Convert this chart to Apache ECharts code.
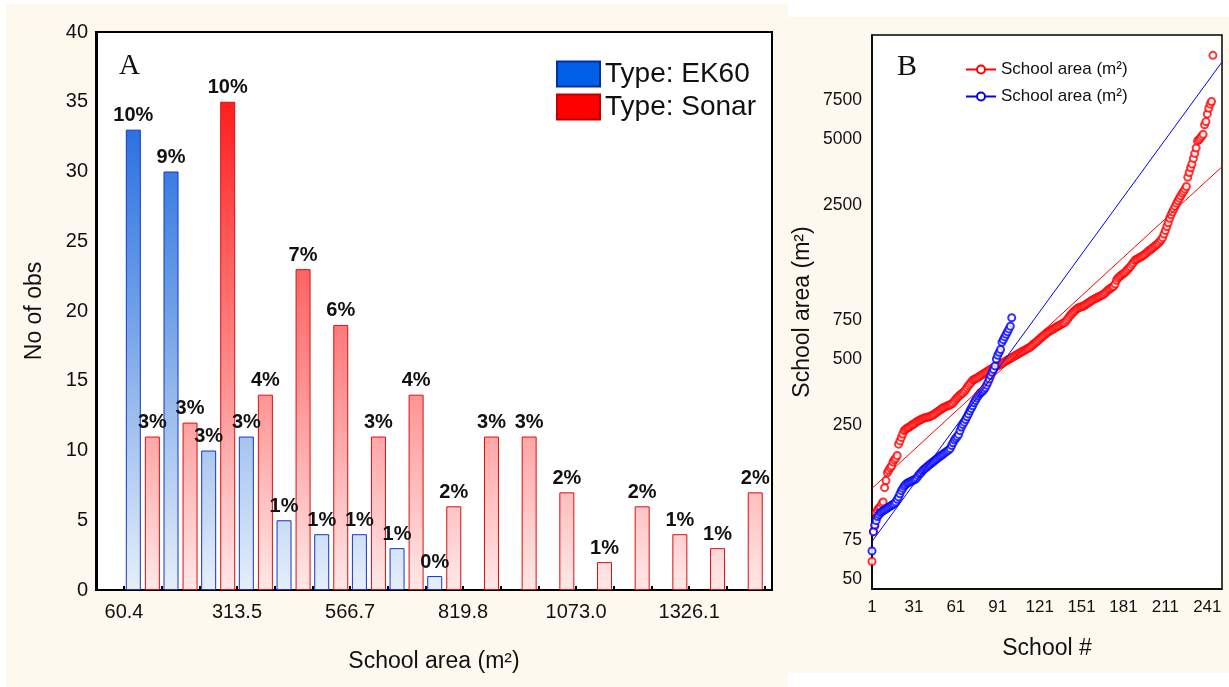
<!DOCTYPE html>
<html>
<head>
<meta charset="utf-8">
<script src="https://cdn.jsdelivr.net/npm/echarts@6/dist/echarts.min.js"></script>
<style>
html,body{margin:0;padding:0;background:#ffffff;}
#chart{width:1229px;height:687px;}
</style>
</head>
<body>
<div id="chart"></div>
<script>
// ---------- Panel A: histogram ----------
const binEdges = [60.4, 144.8, 229.2, 313.5, 397.9, 482.3, 566.7, 651.1, 735.4, 819.8, 904.2, 988.6, 1073.0, 1157.4, 1241.7, 1326.1, 1410.5, 1494.9];
const histTickLabels = ['60.4', '313.5', '566.7', '819.8', '1073.0', '1326.1'];
const countTicks = [0, 5, 10, 15, 20, 25, 30, 35, 40];
const ek60Counts = [33, 30, 10, 11, 5, 4, 4, 3, 1];
const sonarCounts = [11, 12, 35, 14, 23, 19, 11, 14, 6, 11, 11, 7, 2, 6, 4, 3, 7];
const ek60Pct = ['10%', '9%', '3%', '3%', '1%', '1%', '1%', '1%', '0%'];
const sonarPct = ['3%', '3%', '10%', '4%', '7%', '6%', '3%', '4%', '2%', '3%', '3%', '2%', '1%', '2%', '1%', '1%', '2%'];

// ---------- Panel B: ranked school areas ----------
const schoolTicks = [1, 31, 61, 91, 121, 151, 181, 211, 241];
const areaTicks = [50, 75, 250, 500, 750, 2500, 5000, 7500];
const sonarAreas = [
  60, 82, 87, 100, 103, 105, 106, 110, 112, 130, 140,
  152, 156, 160, 163, 170, 174, 177, 182, 205, 212, 220, 228,
  236, 239, 242, 244, 246, 249, 251, 253, 256, 259, 261, 263, 265, 267, 269, 270, 271, 272, 273, 275, 277, 279, 282, 285, 288, 291, 294, 297, 300, 302, 304, 306, 308, 310, 312,
  316, 322, 328, 333, 338, 343, 347, 350, 356, 362, 370, 378, 385, 392,
  400, 403, 406, 409, 413, 417, 421, 425, 429, 433, 437, 441, 445, 449, 452, 456, 459, 463, 467, 470, 474, 477, 481,
  486, 490, 494, 498, 502, 507, 511, 516, 520, 524, 529, 533, 538, 542, 547, 551, 556, 560, 565,
  572, 579, 586, 593, 600, 608, 616, 624, 632, 640, 648,
  656, 662, 668, 674, 680, 686, 692, 698, 704, 710, 716, 722, 728, 733,
  745, 760, 775, 790, 803, 815,
  826, 838, 848, 856, 860, 864, 868, 874, 884, 893, 901,
  910, 920, 928, 935, 942, 949, 956, 963, 970, 978, 985,
  1000, 1015, 1028, 1040, 1050, 1060, 1070,
  1095, 1140,
  1165, 1180, 1195, 1210, 1222, 1235,
  1255, 1275, 1295, 1315,
  1345, 1370, 1400,
  1415, 1425, 1440, 1450, 1462, 1475, 1490,
  1510, 1530, 1550, 1565, 1580, 1600, 1620, 1640, 1660, 1680, 1710, 1740, 1780, 1850, 1920, 2000, 2080, 2180, 2260, 2330,
  2400, 2470, 2550, 2620, 2690, 2760, 2830, 2890, 2960, 3040, 3350, 3520, 3700, 3850, 4080, 4300, 4550, 4900, 4960, 5050,
  5150, 5250, 5800, 6000, 6500, 6900, 7200, 7400, 12000
];
const ek60Areas = [
  67, 82, 88, 92, 96, 98, 100, 101, 102, 103, 104, 105, 106, 107, 108, 109, 110, 112, 115, 118, 122, 126, 129, 132, 134, 136, 137, 138, 139, 140, 141, 142, 144,
  147, 150, 152, 155, 157, 159, 161, 163, 165, 167, 169, 171, 173, 175, 177, 179, 181, 183, 185, 187, 189, 191, 193, 196, 202, 208, 214, 218, 222, 227,
  236, 245, 252, 258, 265, 273, 281, 290, 298, 306,
  316, 324, 332, 340, 347, 352, 356, 362, 370, 380, 392,
  405, 420, 435, 448, 465,
  500, 520, 536, 552,
  595, 612, 630, 648,
  665, 685, 705,
  770
];
const sonarFit = [[1, 129], [251.5, 3740]];
const ek60Fit = [[1, 74], [251.5, 11200]];

// ---------- build ----------
const FONT = '"Liberation Sans", Arial, sans-serif';
const SERIF = '"Liberation Serif", "Times New Roman", serif';
const binCenter = i => (binEdges[i] + binEdges[i + 1]) / 2;

const gA = {left: 96, top: 32, width: 676, height: 558};
const gB = {left: 872, top: 35, width: 350, height: 554};

const blueGrad = new echarts.graphic.LinearGradient(0, gA.top, 0, gA.top + gA.height, [
  {offset: 0, color: '#0A58D8'},
  {offset: 0.175, color: '#2B72E0'},
  {offset: 0.5, color: '#6FA0E8'},
  {offset: 0.725, color: '#A5C4EE'},
  {offset: 1, color: '#E6EFFB'}
], true);
const redGrad = new echarts.graphic.LinearGradient(0, gA.top, 0, gA.top + gA.height, [
  {offset: 0, color: '#FF0000'},
  {offset: 0.125, color: '#FF1E1E'},
  {offset: 0.425, color: '#FF6363'},
  {offset: 0.65, color: '#FF9494'},
  {offset: 1, color: '#FFE8E8'}
], true);

const pctLabel = {show: true, position: 'top', distance: 4, color: '#111', fontFamily: FONT, fontSize: 20, fontWeight: 'bold'};

const option = {
  animation: false,
  backgroundColor: 'transparent',
  textStyle: {fontFamily: FONT},
  graphic: [
    {type: 'rect', z: -100, shape: {x: 6, y: 4, width: 782, height: 683}, style: {fill: '#FDF9EE'}},
    {type: 'rect', z: -100, shape: {x: 788, y: 17, width: 441, height: 656}, style: {fill: '#FDF9EE'}},
    {type: 'text', z: 100, left: 119, top: 52, style: {text: 'A', font: '29px ' + SERIF, fill: '#111'}},
    {type: 'text', z: 100, left: 897, top: 52, style: {text: 'B', font: '30px ' + SERIF, fill: '#111'}}
  ],
  legend: [
    {
      left: 551, top: 55, orient: 'vertical', itemWidth: 43, itemHeight: 25, itemGap: 5,
      textStyle: {fontFamily: FONT, fontSize: 28, color: '#111'},
      data: [
        {name: 'Type: EK60', icon: 'rect', itemStyle: {color: '#005FE6', borderColor: '#0030A0', borderWidth: 2}},
        {name: 'Type: Sonar', icon: 'rect', itemStyle: {color: '#FF0000', borderColor: '#C00000', borderWidth: 2}}
      ]
    },
    {
      left: 960, top: 56, orient: 'vertical', itemWidth: 30, itemHeight: 10, itemGap: 10,
      textStyle: {fontFamily: FONT, fontSize: 17, color: '#111'},
      formatter: () => 'School area (m²)',
      data: ['Sonar fit', 'EK60 fit']
    }
  ],
  grid: [
    Object.assign({show: true, backgroundColor: '#fff', borderColor: '#000', borderWidth: 2, containLabel: false}, gA),
    Object.assign({show: true, backgroundColor: '#fff', borderColor: '#000', borderWidth: 1.5, containLabel: false}, gB)
  ],
  xAxis: [
    {
      gridIndex: 0, type: 'value', min: -2.3, max: 1511.6,
      name: 'School area (m²)', nameLocation: 'middle', nameGap: 60,
      nameTextStyle: {fontFamily: FONT, fontSize: 23, color: '#111'},
      axisLine: {show: true, lineStyle: {color: '#000', width: 2}},
      axisTick: {show: true, inside: true, length: 4, lineStyle: {color: '#000', width: 2}, customValues: binEdges},
      axisLabel: {show: true, margin: 12, fontFamily: FONT, fontSize: 20, color: '#111',
        customValues: histTickLabels.map(Number),
        formatter: v => histTickLabels.find(s => Math.abs(Number(s) - v) < 1e-6) || ''},
      splitLine: {show: false}
    },
    {
      gridIndex: 1, type: 'value', min: 1, max: 251.5,
      name: 'School #', nameLocation: 'middle', nameGap: 48,
      nameTextStyle: {fontFamily: FONT, fontSize: 23, color: '#111'},
      axisLine: {show: true, lineStyle: {color: '#000', width: 1.5}},
      axisTick: {show: false},
      axisLabel: {show: true, margin: 10, fontFamily: FONT, fontSize: 17, color: '#111', customValues: schoolTicks,
        formatter: v => String(Math.round(v))},
      splitLine: {show: false}
    }
  ],
  yAxis: [
    {
      gridIndex: 0, type: 'value', min: 0, max: 40, interval: 5,
      name: 'No of obs', nameLocation: 'middle', nameGap: 50,
      nameTextStyle: {fontFamily: FONT, fontSize: 23, color: '#111'},
      axisLine: {show: true, lineStyle: {color: '#000', width: 2}},
      axisTick: {show: false},
      axisLabel: {show: true, margin: 8, fontFamily: FONT, fontSize: 20, color: '#111', customValues: countTicks},
      splitLine: {show: false}
    },
    {
      gridIndex: 1, type: 'log', min: 45, max: 14850,
      name: 'School area (m²)', nameLocation: 'middle', nameGap: 58,
      nameTextStyle: {fontFamily: FONT, fontSize: 23, color: '#111'},
      axisLine: {show: true, lineStyle: {color: '#000', width: 1.5}},
      axisTick: {show: false},
      axisLabel: {show: true, margin: 10, fontFamily: FONT, fontSize: 17.5, color: '#111', customValues: areaTicks,
        formatter: v => String(Math.round(v))},
      splitLine: {show: false},
      minorTick: {show: false}
    }
  ],
  series: [
    {
      name: 'Type: EK60', type: 'bar', xAxisIndex: 0, yAxisIndex: 0,
      barWidth: 15, barGap: '27%',
      itemStyle: {color: blueGrad, borderColor: '#1535C8', borderWidth: 1},
      label: pctLabel,
      data: ek60Counts.map((c, i) => ({value: [binCenter(i), c], label: {formatter: ek60Pct[i]}}))
    },
    {
      name: 'Type: Sonar', type: 'bar', xAxisIndex: 0, yAxisIndex: 0,
      barWidth: 15, barGap: '27%',
      itemStyle: {color: redGrad, borderColor: '#D81010', borderWidth: 1},
      label: pctLabel,
      data: sonarCounts.map((c, i) => ({value: [binCenter(i), c], label: {formatter: sonarPct[i]}}))
    },
    {
      name: 'Sonar points', type: 'scatter', xAxisIndex: 1, yAxisIndex: 1,
      symbol: 'emptyCircle', symbolSize: 7,
      itemStyle: {color: '#FF0000', borderColor: '#FF0000', borderWidth: 2.3},
      data: sonarAreas.map((v, i) => [i + 1, v])
    },
    {
      name: 'EK60 points', type: 'scatter', xAxisIndex: 1, yAxisIndex: 1,
      symbol: 'emptyCircle', symbolSize: 7,
      itemStyle: {color: '#0000FF', borderColor: '#0000FF', borderWidth: 2.3},
      data: ek60Areas.map((v, i) => [i + 1, v])
    },
    {
      name: 'Sonar fit', type: 'line', xAxisIndex: 1, yAxisIndex: 1,
      symbol: 'emptyCircle', symbolSize: 7, showSymbol: false,
      lineStyle: {color: '#FF0000', width: 1},
      itemStyle: {color: '#FF0000', borderWidth: 2},
      data: sonarFit
    },
    {
      name: 'EK60 fit', type: 'line', xAxisIndex: 1, yAxisIndex: 1,
      symbol: 'emptyCircle', symbolSize: 7, showSymbol: false,
      lineStyle: {color: '#0000FF', width: 1},
      itemStyle: {color: '#0000FF', borderWidth: 2},
      data: ek60Fit
    }
  ]
};

const chart = echarts.init(document.getElementById('chart'), null, {renderer: 'canvas', width: 1229, height: 687});
chart.setOption(option);
</script>
</body>
</html>
